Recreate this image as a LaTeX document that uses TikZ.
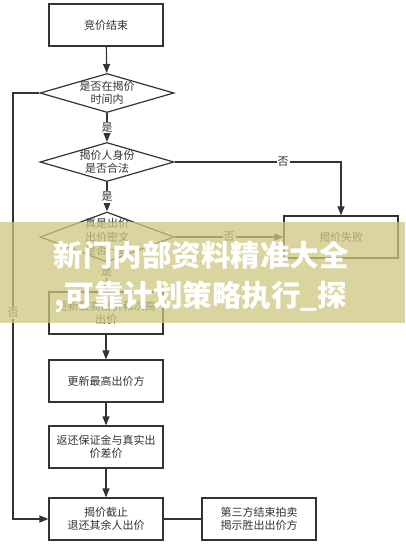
\documentclass[tikz,border=0pt]{standalone}
\usepackage{fontspec}
\setmainfont{Noto Sans CJK SC}
\usetikzlibrary{arrows.meta,shapes.geometric}
\definecolor{ln}{HTML}{333333}
\definecolor{band}{RGB}{206,200,128}
\begin{document}
\begin{tikzpicture}[x=1pt,y=-1pt,
 box/.style={draw=ln,line width=1.2pt,minimum width=114pt,minimum height=42pt,inner sep=0pt,align=center,font=\fontsize{11}{13.5}\selectfont,text=ln},
 dia/.style={draw=ln,line width=1.2pt,diamond,minimum width=134pt,minimum height=39pt,inner sep=0pt},
 txt/.style={align=center,font=\fontsize{11}{13.5}\selectfont,text=ln},
 lab/.style={fill=white,inner sep=1pt,font=\fontsize{11}{13}\selectfont,text=ln},
 arr/.style={draw=ln,line width=1.2pt,-{Triangle[length=9pt,width=7pt]}},
 con/.style={draw=ln,line width=1.2pt},
 wm/.style={text=white,font=\fontsize{29.5}{32}\selectfont\bfseries}
]
\useasboundingbox (0,0) rectangle (405,546);
\fill[white] (0,0) rectangle (405,546);
\node[box] (b1) at (106,25) {竞价结束};
\node[dia] (d1) at (107,93) {};
\node[txt] (t1) at (d1) {是否在揭价\\时间内};
\node[dia] (d2) at (107,162) {};
\node[txt] (t2) at (d2) {揭价人身份\\是否合法};
\node[dia,minimum height=50pt] (d3) at (107,237) {};
\node[txt] (t3) at (d3) {真是出价\\出价密文\\是否一致};
\node[box] (fail) at (341,237) {揭价失败};
\node[box] (b4) at (106,313) {更新最高出价和次高\\出价};
\node[box] (b5) at (106,381) {更新最高出价方};
\node[box] (b6) at (106,447) {返还保证金与真实出\\价差价};
\node[box] (b7) at (106,519) {揭价截止\\退还其余人出价};
\node[box] (b8) at (259,519) {第三方结束拍卖\\揭示胜出出价方};
\coordinate (lc) at (13,93);
\draw[arr] (b1) -- (d1);
\draw[arr] (d1) -- node[lab]{是} (d2);
\draw[arr] (d2) -- node[lab]{是} (d3);
\draw[arr] (d3) -- node[lab,pos=0.33]{是} (b4);
\draw[arr] (b4) -- (b5);
\draw[arr] (b5) -- (b6);
\draw[arr] (b6) -- (b7);
\draw[con] (b7) -- (b8);
\draw[arr] (d1.west) -- (lc) |- node[lab,pos=0.258]{否} (b7.west);
\draw[arr] (d2.east) -| node[lab,pos=0.326]{否} (fail.north);
\draw[arr] (d3.east) -- node[lab]{否} (fail.west);
\fill[band,fill opacity=0.75] (0,222) rectangle (405,323);
\node[wm] (w1) at (201,255) {新门内部资料精准大全};
\node[wm] (w2) at (201,297) {,可靠计划策略执行\_探};
\end{tikzpicture}
\end{document}
